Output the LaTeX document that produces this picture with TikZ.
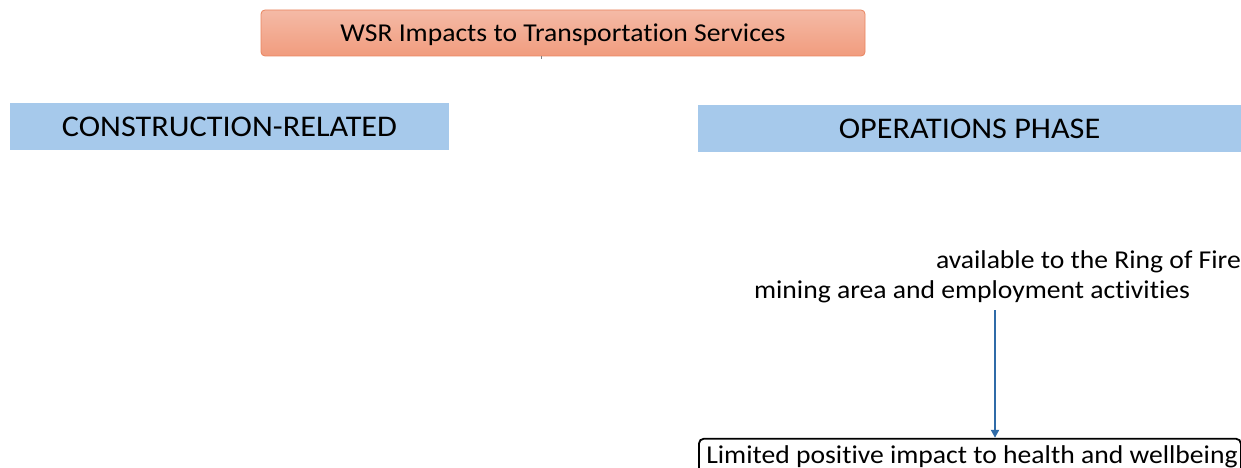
\documentclass[tikz,border=0pt]{standalone}
\usepackage{fontspec}
\setmainfont{Carlito}[FakeStretch=1.075, Ligatures=NoCommon]
\usetikzlibrary{arrows.meta}
\definecolor{hdrblue}{HTML}{A6C9EB}
\definecolor{salmontop}{HTML}{F4BAA6}
\definecolor{salmonbot}{HTML}{F19C7E}
\definecolor{salmonline}{HTML}{E9845F}
\definecolor{arrowblue}{HTML}{2F6BA8}
\tikzset{
  titlebox/.style={rectangle, rounded corners=4pt, draw=salmonline, line width=0.8pt,
    top color=salmontop, bottom color=salmonbot, minimum width=604pt, minimum height=46pt,
    inner sep=0pt, text depth=0pt, font=\fontsize{25.7}{30}\selectfont},
  hdrbox/.style={rectangle, fill=hdrblue, inner sep=0pt, minimum height=47pt,
    font=\fontsize{30}{34}\selectfont},
  plain/.style={inner sep=0pt, font=\fontsize{25.7}{30}\selectfont},
  outbox/.style={rectangle, rounded corners=5pt, draw=black, line width=1.8pt, inner sep=0pt,
    minimum width=542pt, minimum height=50pt},
  flow/.style={draw=arrowblue, line width=2pt, -{Triangle[length=8pt,width=8pt]}}
}
\begin{document}
\begin{tikzpicture}[x=1pt,y=-1pt]
\useasboundingbox (0,0) rectangle (1241,468);
\begin{scope}
\clip (0,0) rectangle (1241,468);
\node[titlebox] (title) at (563,33) {WSR Impacts to Transportation Services};
\draw[gray, line width=1pt] (541,56) -- (541,59);
\node[hdrbox, minimum width=439pt] (cons) at (229.5,126.5) {CONSTRUCTION-RELATED};
\node[hdrbox, minimum width=543pt] (ops) at (969.5,128.5) {OPERATIONS PHASE};
\node[plain, anchor=east] (l1) at (1241,262) {available to the Ring of Fire};
\node[plain] (l2) at (972,292) {mining area and employment activities};
\node[outbox, anchor=north west] (out) at (698,437.8) {};
\node[plain] (outtxt) at (972,457) {Limited positive impact to health and wellbeing};
\coordinate (astart) at (995,310);
\draw[flow] (astart) -- (out.north -| astart);
\end{scope}
\end{tikzpicture}
\end{document}
